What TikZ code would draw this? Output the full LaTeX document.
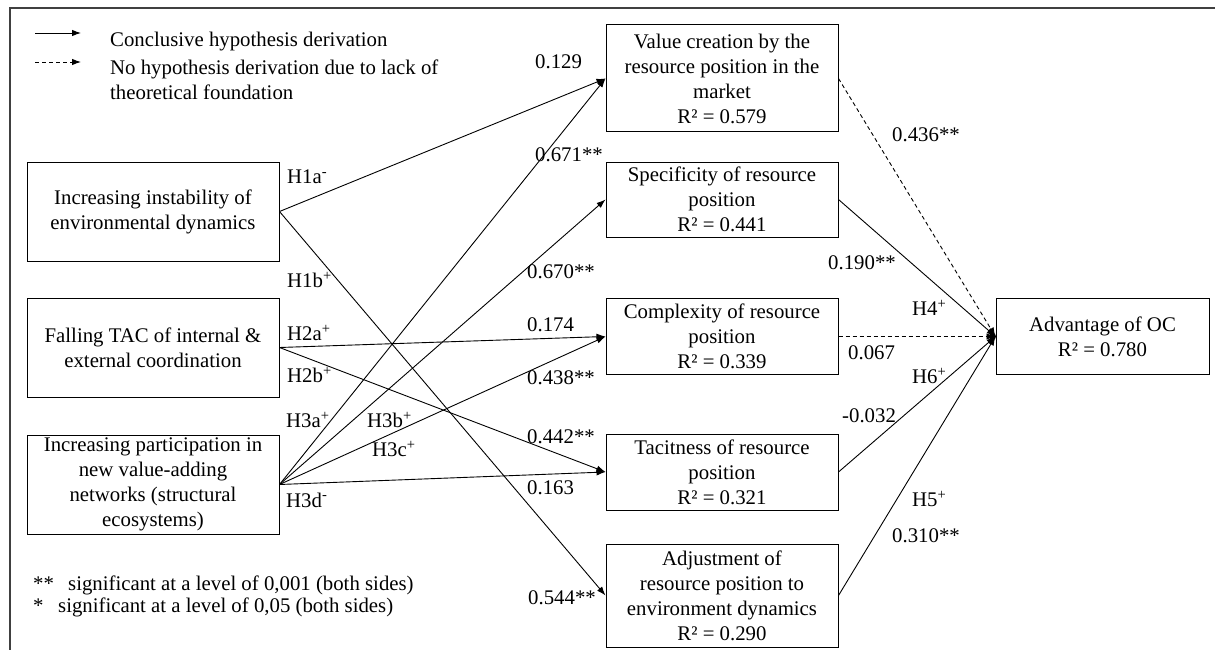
\documentclass[tikz,border=0pt]{standalone}
\usepackage{fontspec}
\setmainfont{Liberation Serif}
\usetikzlibrary{arrows.meta}
\begin{document}
\begin{tikzpicture}[x=1pt,y=-1pt,
  font=\fontsize{20.8}{25}\selectfont,
  box/.style={draw,line width=1pt,inner sep=0pt,align=center},
  lbox/.style={box,minimum width=252pt,minimum height=99pt},
  mbox/.style={box,minimum width=232pt},
  link/.style={line width=0.9pt,-{Latex[length=9pt,width=6.5pt]}},
  nolink/.style={link,dash pattern=on 4pt off 3pt},
  lab/.style={anchor=west,inner sep=0pt},
]
\useasboundingbox (0,0) rectangle (1215,650);

% open frame (top and left edges)
\draw[black!75,line width=1.2pt] (10,650) -- (10,8) -- (1215,8);

% legend
\coordinate (ls1) at (35,33);  \coordinate (le1) at (81,33);
\coordinate (ls2) at (35,62);  \coordinate (le2) at (81,62);
\draw[link] (ls1) -- (le1);
\draw[nolink] (ls2) -- (le2);
\node[anchor=base west,inner sep=0pt] (lg1) at (110,47) {Conclusive hypothesis derivation};
\node[anchor=base west,inner sep=0pt] (lg2) at (110,75) {No hypothesis derivation due to lack of};
\node[anchor=base west,inner sep=0pt] (lg3) at (110,100) {theoretical foundation};

% antecedents
\node[lbox] (A1) at (153,211.5) {Increasing instability of\\environmental dynamics};
\node[lbox] (A2) at (153,347.5) {Falling TAC of internal \&\\external coordination};
\node[lbox] (A3) at (153,484.5) {Increasing participation in\\new value-adding\\networks (structural\\ecosystems)};

% resource position characteristics
\node[mbox,minimum height=107pt] (B1) at (722,78.5) {Value creation by the\\resource position in the\\market\\R² = 0.579};
\node[mbox,minimum height=75pt] (B2) at (722,199.5) {Specificity of resource\\position\\R² = 0.441};
\node[mbox,minimum height=76pt] (B3) at (722,336.5) {Complexity of resource\\position\\R² = 0.339};
\node[mbox,minimum height=76pt] (B4) at (722,472) {Tacitness of resource\\position\\R² = 0.321};
\node[mbox,minimum height=103pt] (B5) at (722,595.5) {Adjustment of\\resource position to\\environment dynamics\\R² = 0.290};

% outcome
\node[box,minimum width=213pt,minimum height=76.5pt] (C) at (1102.5,336.5) {Advantage of OC\\R² = 0.780};

% hypotheses H1--H3
\draw[link] (A1.east) -- (B1.west);
\draw[link] (A1.east) -- (B5.west);
\draw[link] (A2.east) -- (B3.west);
\draw[link] (A2.east) -- (B4.west);
\draw[link] (A3.east) -- (B1.west);
\draw[link] (A3.east) -- (B2.west);
\draw[link] (A3.east) -- (B3.west);
\draw[link] (A3.east) -- (B4.west);

% hypotheses H4--H6 and unfounded paths
\draw[nolink] (B1.east) -- (C.west);
\draw[link] (B2.east) -- (C.west);
\draw[nolink] (B3.east) -- (C.west);
\draw[link] (B4.east) -- (C.west);
\draw[link] (B5.east) -- (C.west);
\fill ([xshift=-3pt]C.west) circle (3.5pt);

% hypothesis labels
\node[lab] (h1a) at (287,177) {H1a\textsuperscript{-}};
\node[lab] (h1b) at (287,280) {H1b\textsuperscript{+}};
\node[lab] (h2a) at (287,333) {H2a\textsuperscript{+}};
\node[lab] (h2b) at (287,375) {H2b\textsuperscript{+}};
\node[lab] (h3a) at (286,420) {H3a\textsuperscript{+}};
\node[lab] (h3b) at (367,420) {H3b\textsuperscript{+}};
\node[lab] (h3c) at (372,449) {H3c\textsuperscript{+}};
\node[lab] (h3d) at (286,500) {H3d\textsuperscript{-}};
\node[lab] (h4) at (912,308) {H4\textsuperscript{+}};
\node[lab] (h6) at (912,376) {H6\textsuperscript{+}};
\node[lab] (h5) at (912,499) {H5\textsuperscript{+}};

% path coefficients
\node[lab] (c1) at (535,62) {0.129};
\node[lab] (c2) at (535,155) {0.671**};
\node[lab] (c3) at (527,272) {0.670**};
\node[lab] (c4) at (527,325) {0.174};
\node[lab] (c5) at (527,378) {0.438**};
\node[lab] (c6) at (527,437) {0.442**};
\node[lab] (c7) at (527,488) {0.163};
\node[lab] (c8) at (528,598) {0.544**};
\node[lab] (c9) at (892,135) {0.436**};
\node[lab] (c10) at (828,263) {0.190**};
\node[lab] (c11) at (848,353) {0.067};
\node[lab] (c12) at (842,416) {-0.032};
\node[lab] (c13) at (892,536) {0.310**};

% significance notes
\node[anchor=base west,inner sep=0pt] (n1) at (33,590) {\makebox[35pt][l]{**}significant at a level of 0,001 (both sides)};
\node[anchor=base west,inner sep=0pt] (n2) at (33,612) {\makebox[25pt][l]{*}significant at a level of 0,05 (both sides)};
\end{tikzpicture}
\end{document}
